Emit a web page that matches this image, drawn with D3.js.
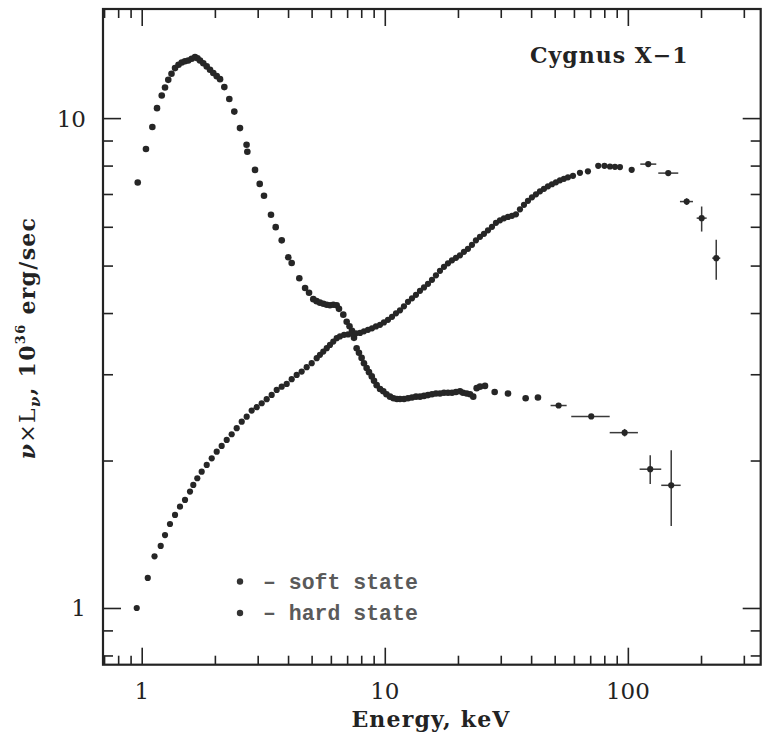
<!DOCTYPE html>
<html>
<head>
<meta charset="utf-8">
<script src="https://cdn.jsdelivr.net/npm/d3@7"></script>
<style>
  body { margin: 0; background: #fff; }
  svg { display: block; }
</style>
</head>
<body>
<svg id="chart" width="766" height="738"></svg>
<script>
// Cygnus X-1 broadband spectra, nu*L_nu in 1e36 erg/s versus photon energy in keV.

// Soft state: energies (keV) and luminosities
const softEnergy = [0.963, 1.041, 1.106, 1.156, 1.209, 1.247, 1.286, 1.326, 1.371, 1.417,
  1.461, 1.507, 1.554, 1.606, 1.657, 1.696, 1.737, 1.792, 1.851, 1.910,
  1.970, 2.035, 2.100, 2.187, 2.293, 2.404, 2.537, 2.70, 2.72, 2.925,
  3.058, 3.185, 3.403, 3.558, 3.767, 4.009, 4.140, 4.450, 4.70, 4.88,
  5.08, 5.24, 5.41, 5.59, 5.77, 5.95, 6.14, 6.34, 6.48, 6.75,
  6.97, 7.16, 7.33, 7.47, 7.66, 7.83, 8.03, 8.21, 8.42, 8.61,
  8.84, 9.03, 9.26, 9.56, 9.86, 10.16, 10.51, 10.86, 11.22, 11.55,
  12.00, 12.46, 12.94, 13.44, 13.96, 14.50, 15.06, 15.64, 16.24, 16.87,
  17.52, 18.20, 18.90, 19.63, 20.39, 20.98, 21.73, 22.42, 23.12, 23.88,
  24.64, 25.84, 28.32, 32.13, 37.98, 42.67];
const softLum = [7.39, 8.65, 9.59, 10.48, 11.12, 11.55, 11.97, 12.32, 12.65, 12.85,
  12.99, 13.06, 13.11, 13.22, 13.32, 13.25, 13.11, 12.94, 12.75, 12.55,
  12.36, 12.18, 12.01, 11.57, 10.94, 10.31, 9.54, 8.82, 8.54, 7.84,
  7.34, 6.94, 6.35, 5.99, 5.63, 5.20, 5.06, 4.71, 4.50, 4.40,
  4.27, 4.23, 4.20, 4.18, 4.16, 4.15, 4.16, 4.15, 4.08, 3.97,
  3.84, 3.76, 3.68, 3.56, 3.39, 3.32, 3.24, 3.16, 3.09, 3.03,
  2.97, 2.91, 2.85, 2.80, 2.77, 2.73, 2.70, 2.68, 2.67, 2.67,
  2.67, 2.68, 2.69, 2.70, 2.70, 2.71, 2.72, 2.73, 2.74, 2.74,
  2.75, 2.75, 2.75, 2.76, 2.77, 2.75, 2.74, 2.73, 2.70, 2.81,
  2.83, 2.84, 2.76, 2.74, 2.68, 2.69];

// Soft state high-energy points with error bars
const softBarEnergy = [51.9, 70.7, 97.0, 123.6, 150.8];
const softBarLum    = [2.59, 2.46, 2.28, 1.92, 1.78];
const softBarELo    = [48.1, 58.5, 84.2, 111.8, 137.2];
const softBarEHi    = [56.0, 84.2, 110.0, 137.2, 164.9];
const softBarLLo    = [2.59, 2.46, 2.24, 1.79, 1.47];
const softBarLHi    = [2.59, 2.46, 2.32, 2.05, 2.10];

// Hard state: energies (keV) and luminosities
const hardEnergy = [0.954, 1.059, 1.129, 1.197, 1.247, 1.307, 1.371, 1.437, 1.507, 1.580,
  1.630, 1.693, 1.765, 1.851, 1.941, 2.035, 2.133, 2.237, 2.345, 2.459,
  2.579, 2.703, 2.834, 2.972, 3.116, 3.267, 3.425, 3.592, 3.767, 3.949,
  4.140, 4.341, 4.551, 4.772, 5.004, 5.247, 5.412, 5.585, 5.77, 5.95,
  6.14, 6.34, 6.54, 6.80, 7.06, 7.33, 7.61, 7.91, 8.21, 8.53,
  8.86, 9.20, 9.56, 9.92, 10.31, 10.71, 11.12, 11.55, 11.99, 12.46,
  12.94, 13.44, 13.96, 14.50, 15.06, 15.64, 16.24, 16.87, 17.52, 18.20,
  18.90, 19.63, 20.39, 21.17, 21.99, 22.84, 23.72, 24.64, 25.59, 26.58,
  27.61, 28.67, 29.78, 30.93, 32.13, 33.37, 34.65, 35.99, 37.38, 38.82,
  40.32, 41.88, 43.50, 45.18, 46.92, 48.73, 50.61, 52.56, 54.59, 56.70,
  59.46, 63.52, 68.51, 75.54, 80.1, 84.41, 88.5, 92.8, 103.7];
const hardLum = [1.000, 1.152, 1.275, 1.339, 1.409, 1.484, 1.549, 1.610, 1.662, 1.728,
  1.783, 1.840, 1.898, 1.959, 2.021, 2.085, 2.142, 2.203, 2.263, 2.328,
  2.401, 2.458, 2.529, 2.570, 2.618, 2.668, 2.722, 2.787, 2.830, 2.867,
  2.931, 2.991, 3.038, 3.101, 3.160, 3.236, 3.287, 3.338, 3.391, 3.444,
  3.498, 3.554, 3.584, 3.610, 3.618, 3.627, 3.636, 3.644, 3.670, 3.696,
  3.722, 3.757, 3.784, 3.828, 3.874, 3.929, 3.995, 4.051, 4.128, 4.216,
  4.286, 4.357, 4.440, 4.513, 4.588, 4.676, 4.775, 4.878, 4.970, 5.053,
  5.125, 5.185, 5.247, 5.333, 5.409, 5.512, 5.630, 5.723, 5.804, 5.901,
  5.998, 6.112, 6.184, 6.243, 6.286, 6.316, 6.361, 6.512, 6.653, 6.779,
  6.892, 6.990, 7.089, 7.173, 7.258, 7.327, 7.396, 7.464, 7.516, 7.570,
  7.624, 7.732, 7.787, 7.991, 7.991, 7.965, 7.953, 7.943, 7.842];

// Hard state high-energy points with error bars
const hardBarEnergy = [121.3, 146.6, 174.6, 201.2, 231.0];
const hardBarLum    = [8.055, 7.722, 6.755, 6.249, 5.178];
const hardBarELo    = [112.5, 133.4, 163.8, 191.9, 222.4];
const hardBarEHi    = [130.9, 161.2, 185.3, 210.9, 240.0];
const hardBarLLo    = [8.055, 7.722, 6.65, 5.867, 4.676];
const hardBarLHi    = [8.055, 7.722, 6.86, 6.600, 5.643];

// Axis ticks and labels
const xMajorTicks = [1, 10, 100];
const xMinorTicks = [0.7, 0.8, 0.9, 2, 3, 4, 5, 6, 7, 8, 9, 20, 30, 40, 50, 60, 70, 80, 90, 200, 300];
const yMajorTicks = [1, 10];
const yMinorTicks = [0.8, 0.9, 2, 3, 4, 5, 6, 7, 8, 9];
const xDomain = [0.693, 352];
const yDomain = [0.766, 16.7];

const titleText = "Cygnus X\u22121";
const legendLabels = ["\u2013 soft state", "\u2013 hard state"];

(function draw() {
  const svg = d3.select("#chart");
  const plotL = 103, plotR = 760.7, plotT = 9, plotB = 664.7;
  const ink = "#232323";

  const x = d3.scaleLog().domain(xDomain).range([plotL, plotR]);
  const y = d3.scaleLog().domain(yDomain).range([plotB, plotT]);

  const majorLen = 17, minorLen = 9;

  function styleAxis(g) {
    g.select(".domain").remove();
    g.selectAll(".tick line").attr("stroke", ink).attr("stroke-width", 1.6);
    g.selectAll(".tick text").remove();
  }

  // bottom & top ticks (pointing inward)
  svg.append("g").attr("transform", `translate(0,${plotB})`)
    .call(d3.axisBottom(x).tickValues(xMajorTicks).tickSize(-majorLen)).call(styleAxis);
  svg.append("g").attr("transform", `translate(0,${plotB})`)
    .call(d3.axisBottom(x).tickValues(xMinorTicks).tickSize(-minorLen)).call(styleAxis);
  svg.append("g").attr("transform", `translate(0,${plotT})`)
    .call(d3.axisTop(x).tickValues(xMajorTicks).tickSize(-majorLen)).call(styleAxis);
  svg.append("g").attr("transform", `translate(0,${plotT})`)
    .call(d3.axisTop(x).tickValues(xMinorTicks).tickSize(-minorLen)).call(styleAxis);
  // left & right ticks
  svg.append("g").attr("transform", `translate(${plotL},0)`)
    .call(d3.axisLeft(y).tickValues(yMajorTicks).tickSize(-(majorLen + 1))).call(styleAxis);
  svg.append("g").attr("transform", `translate(${plotL},0)`)
    .call(d3.axisLeft(y).tickValues(yMinorTicks).tickSize(-(minorLen + 1))).call(styleAxis);
  svg.append("g").attr("transform", `translate(${plotR},0)`)
    .call(d3.axisRight(y).tickValues(yMajorTicks).tickSize(-(majorLen + 1))).call(styleAxis);
  svg.append("g").attr("transform", `translate(${plotR},0)`)
    .call(d3.axisRight(y).tickValues(yMinorTicks).tickSize(-(minorLen + 1))).call(styleAxis);

  // frame
  svg.append("rect")
    .attr("x", plotL).attr("y", plotT)
    .attr("width", plotR - plotL).attr("height", plotB - plotT)
    .attr("fill", "none").attr("stroke", ink).attr("stroke-width", 2.2);

  // tick labels
  const tickFont = "'DejaVu Serif', serif";
  svg.append("g").selectAll("text").data(xMajorTicks).join("text")
    .attr("x", d => x(d)).attr("y", 699)
    .attr("text-anchor", "middle")
    .attr("font-family", tickFont).attr("font-size", 23).attr("fill", ink)
    .text(d => d3.format("d")(d));
  svg.append("g").selectAll("text").data(yMajorTicks).join("text")
    .attr("x", 86).attr("y", d => y(d) + 8.5)
    .attr("text-anchor", "end")
    .attr("font-family", tickFont).attr("font-size", 23).attr("fill", ink)
    .text(d => d3.format("d")(d));

  // error bars
  function drawBars(E, L, ELo, EHi, LLo, LHi) {
    const g = svg.append("g").attr("stroke", "#3a3a3a").attr("stroke-width", 1.5);
    const idx = d3.range(E.length);
    g.selectAll("line.h").data(idx).join("line").attr("class", "h")
      .attr("x1", i => x(ELo[i])).attr("x2", i => x(EHi[i]))
      .attr("y1", i => y(L[i])).attr("y2", i => y(L[i]));
    g.selectAll("line.v").data(idx.filter(i => LHi[i] > LLo[i])).join("line").attr("class", "v")
      .attr("x1", i => x(E[i])).attr("x2", i => x(E[i]))
      .attr("y1", i => y(LLo[i])).attr("y2", i => y(LHi[i]));
  }
  drawBars(softBarEnergy, softBarLum, softBarELo, softBarEHi, softBarLLo, softBarLHi);
  drawBars(hardBarEnergy, hardBarLum, hardBarELo, hardBarEHi, hardBarLLo, hardBarLHi);

  // data points
  function drawDots(E, L, r) {
    svg.append("g").selectAll("circle").data(d3.range(E.length)).join("circle")
      .attr("cx", i => x(E[i])).attr("cy", i => y(L[i]))
      .attr("r", r).attr("fill", "#262626");
  }
  drawDots(softEnergy, softLum, 3.3);
  drawDots(softBarEnergy, softBarLum, 3.1);
  drawDots(hardEnergy, hardLum, 3.1);
  drawDots(hardBarEnergy, hardBarLum, 3.1);

  // title
  svg.append("text")
    .attr("x", 530).attr("y", 63)
    .attr("font-family", "'DejaVu Serif', serif").attr("font-weight", "bold")
    .attr("font-size", 22).attr("letter-spacing", 1).attr("fill", ink)
    .text(titleText);

  // legend
  const legendY = [581.5, 613];
  svg.append("g").selectAll("circle").data(legendY).join("circle")
    .attr("cx", 240).attr("cy", d => d).attr("r", 3.2).attr("fill", "#333");
  svg.append("g").selectAll("text").data(legendLabels).join("text")
    .attr("x", 263).attr("y", (d, i) => legendY[i] + 7)
    .attr("font-family", "'Liberation Mono', monospace")
    .attr("font-size", 21.5).attr("font-weight", "bold").attr("fill", "#5a5a5a")
    .text(d => d);

  // axis titles
  svg.append("text")
    .attr("x", 431).attr("y", 727)
    .attr("text-anchor", "middle")
    .attr("font-family", "'DejaVu Serif', serif").attr("font-weight", "bold")
    .attr("font-size", 22).attr("letter-spacing", 1.2).attr("fill", ink)
    .text("Energy, keV");

  const yl = svg.append("text")
    .attr("transform", "translate(35,338) rotate(-90)")
    .attr("text-anchor", "middle")
    .attr("font-family", "'DejaVu Serif', serif").attr("font-weight", "bold")
    .attr("font-size", 22).attr("letter-spacing", 1.3).attr("fill", ink);
  yl.append("tspan").attr("font-style", "italic").text("\u03bd");
  yl.append("tspan").attr("font-weight", "normal").text("\u00d7L");
  yl.append("tspan").attr("font-style", "italic").attr("font-size", 15).attr("dy", 5).text("\u03bd");
  yl.append("tspan").attr("dy", -5).text(", 10");
  yl.append("tspan").attr("font-size", 13).attr("dy", -10).text("36");
  yl.append("tspan").attr("dy", 10).text(" erg/sec");
})();
</script>
</body>
</html>
